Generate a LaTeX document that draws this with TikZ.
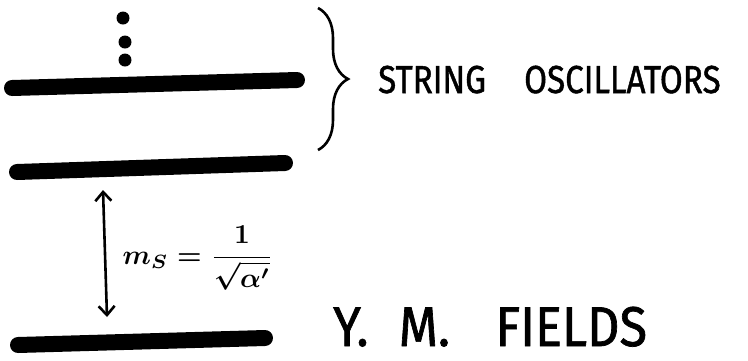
\documentclass[tikz,border=0pt]{standalone}
\usepackage{fontspec}
\newfontfamily\handfont{Fira Sans}[FakeBold=1.3]
\usetikzlibrary{arrows.meta,decorations.pathreplacing}

\tikzset{
  level/.style={line width=16pt,line cap=round},
  handlabel/.style={inner sep=0pt,font=\handfont\fontsize{#1}{#1}\selectfont},
}

\begin{document}
\begin{tikzpicture}[x=1pt,y=-1pt]
  \useasboundingbox (0,0) rectangle (748,360);

  % oscillator tower
  \foreach \px/\py in {123/18,125/42,125/60}
    \fill (\px,\py) circle (6.5);
  \draw[level] (12,88) -- (297,80);
  \draw[level] (17,172) -- (285,163);

  % massless level
  \draw[level] (18,345) -- (265,338);

  \coordinate (gaptop) at (103,190);
  \coordinate (gapbot) at (107,317);
  \draw[line width=2.6pt,{Straight Barb[length=9pt,width=16pt]}-{Straight Barb[length=9pt,width=16pt]}] (gaptop) -- (gapbot);
  \node (ms) at (198,258) {\scalebox{2.75}{\boldmath$\displaystyle m_S=\frac{1}{\sqrt{\alpha'}}$}};

  % brace
  \draw[line width=2.6pt,decorate,decoration={brace,amplitude=30pt}] (318,8) -- (318,150);

  \node[handlabel=39,anchor=base west] (osc) at (378,93) {\scalebox{0.85}[1]{STRING\hspace{1.15em}OSCILLATORS}};
  \node[handlabel=56,anchor=base west] (ym) at (333,346) {\scalebox{0.9}[1]{Y.\hspace{0.6em}M.\hspace{0.9em}FIELDS}};
\end{tikzpicture}
\end{document}
